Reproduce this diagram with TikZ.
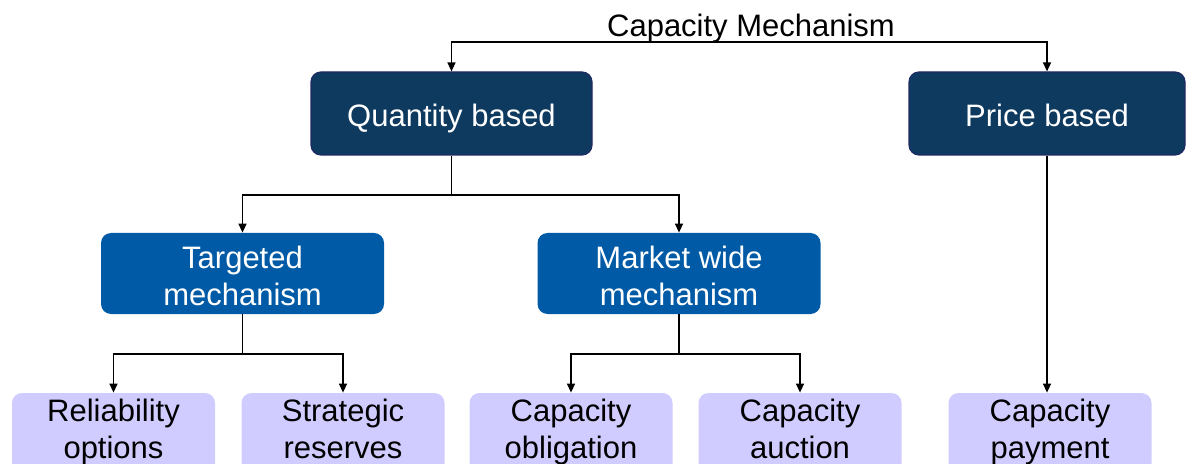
\documentclass[tikz,border=0pt]{standalone}
\usepackage{fontspec}
\setmainfont{Liberation Sans}
\usetikzlibrary{arrows.meta}
\definecolor{navy}{RGB}{14,58,95}
\definecolor{navyedge}{RGB}{32,42,100}
\definecolor{midblue}{RGB}{0,90,166}
\definecolor{lav}{RGB}{208,204,255}
\newcommand{\capline}[1]{\rule{0pt}{13.5pt}\smash{#1}}
\tikzset{
  base/.style={rounded corners=5pt, inner sep=0pt, align=center,
    font=\fontsize{15.5}{18.5}\selectfont},
  topbox/.style={base, fill=navy, draw=navyedge, line width=0.6pt, text=white,
    minimum height=41.5pt},
  midbox/.style={base, fill=midblue, text=white, minimum width=141.5pt, minimum height=40.5pt},
  leafbox/.style={base, fill=lav, text=black, minimum width=101.5pt, minimum height=40pt},
  conn/.style={line width=0.7pt, black},
  arr/.style={conn, -{Triangle[length=4.5pt,width=4pt]}}
}
\begin{document}
\begin{tikzpicture}[x=0.5pt,y=-0.5pt]
\useasboundingbox (0,0) rectangle (1186,464);
\clip (0,0) rectangle (1186,464);
\node[inner sep=0pt, font=\fontsize{15.5}{18.5}\selectfont] (title) at (751,23) {\capline{Capacity Mechanism}};
\coordinate (split0) at (751,42);
\node[topbox, minimum width=140.5pt] (q) at (451.5,113.5) {\capline{Quantity based}};
\node[topbox, minimum width=138pt] (p) at (1047,113.5) {\capline{Price based}};
\node[midbox] (t) at (242.5,273.5) {\rule{0pt}{13.5pt}Targeted\\mechanism};
\node[midbox] (m) at (679,273.5) {\rule{0pt}{13.5pt}Market wide\\mechanism};
\node[leafbox] (r) at (113.5,433) {\strut Reliability\\options\strut};
\node[leafbox] (s) at (343,433) {\strut Strategic\\reserves\strut};
\node[leafbox] (o) at (571,433) {\strut Capacity\\obligation\strut};
\node[leafbox] (a) at (800,433) {\strut Capacity\\auction\strut};
\node[leafbox] (c) at (1050,433) {\strut Capacity\\payment\strut};
% top split
\draw[arr] (split0) -| (q.north);
\draw[arr] (split0) -| (p.north);
% quantity split
\coordinate (split1) at (451.5,195);
\draw[conn] (q.south) -- (split1);
\draw[arr] (split1) -| (t.north);
\draw[arr] (split1) -| (m.north);
% targeted split
\coordinate (split2) at (242.5,354);
\draw[conn] (t.south) -- (split2);
\draw[arr] (split2) -| (r.north);
\draw[arr] (split2) -| (s.north);
% market split
\coordinate (split3) at (679,354);
\draw[conn] (m.south) -- (split3);
\draw[arr] (split3) -| (o.north);
\draw[arr] (split3) -| (a.north);
% price
\draw[arr] (p.south) -- (p.south |- c.north);
\end{tikzpicture}
\end{document}
